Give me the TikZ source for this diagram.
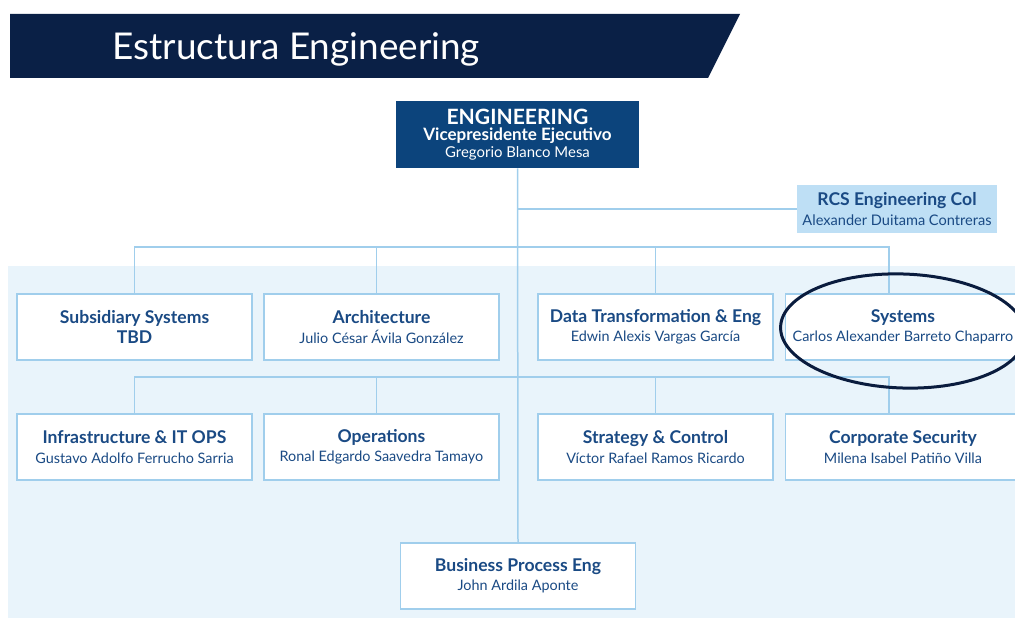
\documentclass[tikz,border=0pt]{standalone}
\usepackage{fontspec}
\setmainfont{Lato}
\usepackage{xcolor}
\usetikzlibrary{positioning, calc, shapes.geometric}
\definecolor{bannerNavy}{RGB}{10, 32, 70}
\definecolor{engBlue}{RGB}{12, 68, 124}
\definecolor{textBlue}{RGB}{26, 74, 132}
\definecolor{lineBlue}{RGB}{160, 206, 236}
\definecolor{rcsBlue}{RGB}{190, 223, 245}
\definecolor{areaBlue}{RGB}{233, 244, 251}
\definecolor{ringNavy}{RGB}{10, 28, 62}

\tikzset{
  unitbox/.style={draw=lineBlue, line width=0.03cm, fill=white, text=textBlue, minimum width=4.7cm, minimum height=1.32cm, inner sep=0pt, align=center, font=\fontsize{8.2}{11}\selectfont},
  link/.style={draw=lineBlue, line width=0.03cm},
}

\begin{document}
\begin{tikzpicture}[x=0.02cm, y=-0.02cm]
                \useasboundingbox (0,0) rectangle (1015,618);
                % banner
                \fill[bannerNavy] (10,14) -- (740,14) -- (708,78) -- (10,78) -- cycle;
                \node[anchor=base west, text=white, inner sep=0pt, font=\fontsize{21}{24}\selectfont] (title) at (112,60) {Estructura Engineering};
                % light area
                \fill[areaBlue] (8,266) rectangle (1015,618);

                \node[fill=engBlue, text=white, minimum width=4.86cm, minimum height=1.34cm, inner sep=0pt, align=center, font=\fontsize{8.5}{9.5}\selectfont] (eng) at (517.5,134.5) {{\fontsize{12}{12}\selectfont\textbf{ENGINEERING}}\\{\fontsize{9.7}{10.5}\selectfont\textbf{Vicepresidente Ejecutivo}}\\Gregorio Blanco Mesa};
                \node[fill=rcsBlue, text=textBlue, minimum width=4cm, minimum height=0.96cm, inner sep=0pt, align=center, font=\fontsize{8.3}{11}\selectfont] (rcs) at (897,209) {{\fontsize{10}{11}\selectfont\textbf{RCS Engineering Col}}\\Alexander Duitama Contreras};

                % row 1
                \node[unitbox] (sub) at (134.5,327) {{\fontsize{10}{11}\selectfont\textbf{Subsidiary Systems}}\\{\fontsize{10}{11}\selectfont\textbf{TBD}}};
                \node[unitbox] (arch) at (381.5,327) {{\fontsize{10}{11}\selectfont\textbf{Architecture}}\\Julio César Ávila González};
                \node[unitbox] (data) at (655.5,327) {{\fontsize{10}{11}\selectfont\textbf{Data Transformation \& Eng}}\\Edwin Alexis Vargas García};
                \node[unitbox] (sys) at (903,327) {{\fontsize{10}{11}\selectfont\textbf{Systems}}\\Carlos Alexander Barreto Chaparro};
                % row 2
                \node[unitbox] (infra) at (134.5,447) {{\fontsize{10}{11}\selectfont\textbf{Infrastructure \& IT OPS}}\\Gustavo Adolfo Ferrucho Sarria};
                \node[unitbox] (ops) at (381.5,447) {{\fontsize{10}{11}\selectfont\textbf{Operations}}\\Ronal Edgardo Saavedra Tamayo};
                \node[unitbox] (strat) at (655.5,447) {{\fontsize{10}{11}\selectfont\textbf{Strategy \& Control}}\\Víctor Rafael Ramos Ricardo};
                \node[unitbox] (corp) at (903,447) {{\fontsize{10}{11}\selectfont\textbf{Corporate Security}}\\Milena Isabel Patiño Villa};
                % bottom
                \node[unitbox] (bpe) at (518,576) {{\fontsize{10}{11}\selectfont\textbf{Business Process Eng}}\\John Ardila Aponte};

                % connectors
                \coordinate (busA) at (518,247);
                \coordinate (busB) at (518,377);
                \draw[link] (eng.south) -- (bpe.north);
                \draw[link] (eng.south |- rcs.west) -- (rcs.west);
                \draw[link] (sub.north) |- (busA) -| ([xshift=-0.28cm]sys.north);
                \draw[link] ([xshift=-0.1cm]arch.north) -- ([xshift=-0.1cm]arch.north |- busA);
                \draw[link] (data.north) -- (data.north |- busA);
                \draw[link] (infra.north) |- (busB) -| ([xshift=-0.28cm]corp.north);
                \draw[link] ([xshift=-0.1cm]ops.north) -- ([xshift=-0.1cm]ops.north |- busB);
                \draw[link] (strat.north) -- (strat.north |- busB);

                % highlight ring
                \node[draw=ringNavy, line width=0.06cm, ellipse, minimum width=4.9cm, minimum height=2.28cm, rotate=-2] (ring) at (903,331) {};
            \end{tikzpicture}
\end{document}
